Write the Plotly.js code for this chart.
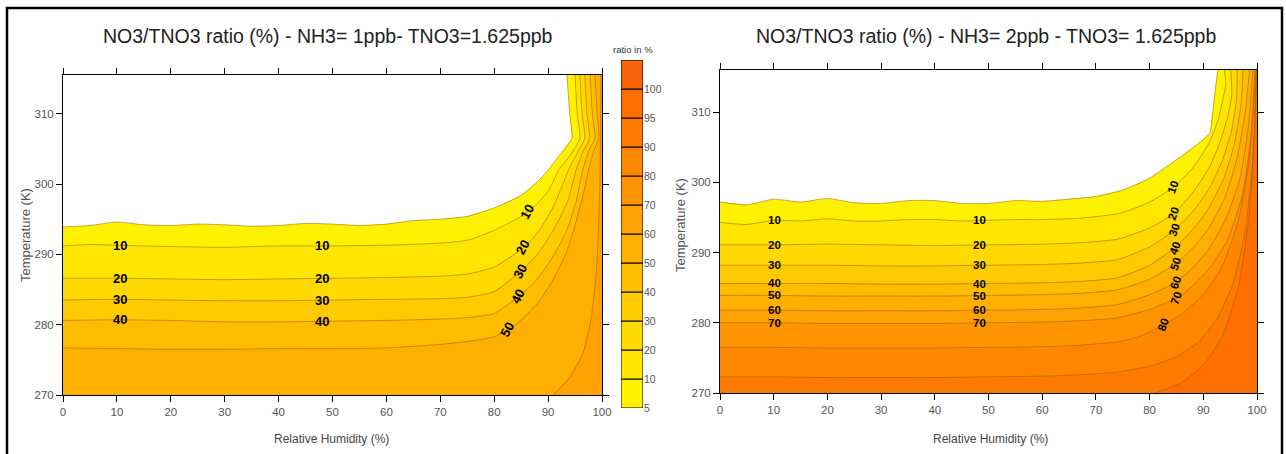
<!DOCTYPE html>
<html><head><meta charset="utf-8">
<script src="https://cdn.plot.ly/plotly-3.0.1.min.js"></script>
<style>html,body{margin:0;padding:0;background:#fff}#chart{width:1286px;height:454px}</style>
</head><body><div id="chart"></div>
<script>
// ---- colour levels (ratio in %) ----
const LEVELS = [5,10,20,30,40,50,60,70,80,90,95,100];
const BAND_COLORS = ['#FFF200','#FFE600','#FFD900','#FFCB00','#FFBD00','#FFAF00','#FFA100','#FF9400','#FF8700','#FF7B00','#FF6F00','#F8620A'];
const CB_LABELS = ['5','10','20','30','40','50','60','70','80','90','95','100'];
const X_TICKS = [0,10,20,30,40,50,60,70,80,90,100];
const Y_TICKS = [270,280,290,300,310];

// ---- left panel: NH3 = 1 ppb, contour lines (RH %, T K) ----
const left05RH = [0,5,10,15,20,25,30,35,40,45,50,55,60,65,70,75,80,85,88,90,92,94.4,94,93.5];
const left05T  = [293.9,294.1,294.6,294.2,294.1,294.3,294.2,294.0,294.1,294.4,294.3,294.1,294.3,294.8,295.0,295.4,296.6,298.4,300.3,302.0,304.0,306.5,310.0,315.5];
const left10RH = [0,5,10,20,30,40,50,60,70,75,80,85,88,90,92,94.5,95.9,95.4,95.0];
const left10T  = [291.2,291.4,291.3,291.1,291.0,291.2,291.2,291.3,291.6,292.0,293.4,295.4,297.2,299.0,302.0,304.5,306.5,310.0,315.5];
const left20RH = [0,10,20,30,40,50,60,70,75,80,85,88,91,93.8,95.6,96.8,96.3,95.9];
const left20T  = [286.6,286.6,286.5,286.4,286.5,286.6,286.7,286.9,287.2,288.2,290.7,293.0,296.8,302.0,304.7,306.5,310.0,315.5];
const left30RH = [0,10,20,30,40,50,60,70,75,80,85,88,91,93.6,95.2,96.6,97.7,97.2,96.8];
const left30T  = [283.5,283.6,283.5,283.4,283.4,283.5,283.6,283.7,283.9,284.7,287.7,290.0,293.5,297.5,302.0,304.8,306.5,310.0,315.5];
const left40RH = [0,10,20,30,40,50,60,70,75,80,85,88,91,93.5,95.2,96.4,97.6,98.7,98.2,97.8];
const left40T  = [280.6,280.7,280.6,280.4,280.4,280.5,280.6,280.8,281.0,281.6,284.3,286.5,289.8,293.5,297.5,302.0,304.8,306.5,310.0,315.5];
const left50RH = [0,10,20,30,40,50,60,70,75,80,84,88,91,93.5,95.3,96.5,97.5,98.5,99.4,99.1,98.7];
const left50T  = [276.7,276.6,276.5,276.5,276.6,276.6,276.7,277.2,277.6,278.3,280.0,283.0,286.5,290.5,295.0,298.5,302.0,304.8,306.5,310.0,315.5];
const left60RH = [91,94,96.5,98,99,99.6,99.8];
const left60T  = [270,272.5,276,281,288,300,315.5];

// ---- right panel: NH3 = 2 ppb ----
const right05RH = [0,5,10,15,20,25,30,35,40,45,50,55,60,65,70,75,80,85.7,89,91.2,91.8,92.2,92.7];
const right05T  = [297.2,296.8,297.6,297.2,297.7,297.1,297.0,297.4,297.4,297.0,297.0,297.4,297.3,297.6,298.0,298.9,300.6,303.6,305.5,307.0,310.3,313.0,316.0];
const right10RH = [0,5,10,15,20,25,30,35,40,45,50,55,60,67,74.5,80,84.4,88,91,92.8,93.7,94.2,93.9];
const right10T  = [294.3,294.0,294.6,294.5,294.8,294.5,294.5,294.7,294.7,294.5,294.6,294.7,294.7,294.9,295.6,297.2,299.3,302.0,305.5,309.0,312.0,314.0,316.0];
const right20RH = [0,10,20,30,40,50,60,67,74,80,84.5,88,91,93,94.6,95.3,95.1];
const right20T  = [291.1,291.1,291.2,291.1,291.0,291.1,291.2,291.4,291.9,293.5,295.6,298.5,302.0,305.5,309.5,312.5,316.0];
const right30RH = [0,10,20,30,40,50,60,67,74,80,84.6,88,91,93.5,95.3,96.2,96.3];
const right30T  = [288.2,288.2,288.2,288.1,288.1,288.2,288.3,288.5,289.0,290.8,293.2,295.8,299.0,303.0,307.5,312.0,316.0];
const right40RH = [0,10,20,30,40,50,60,67,74,80,84.7,88,91,93.8,95.8,97,97.4];
const right40T  = [285.6,285.6,285.6,285.5,285.5,285.6,285.7,285.9,286.4,288.2,290.7,293.2,296.3,300.5,305.5,311.0,316.0];
const right50RH = [0,10,20,30,40,50,60,67,74,80,84.8,88,91,94,96.3,97.8,98.6];
const right50T  = [283.9,283.9,283.8,283.8,283.8,283.9,284.0,284.2,284.7,286.2,288.4,290.6,293.5,297.8,303.5,310.0,316.0];
const right60RH = [0,10,20,30,40,50,60,67,74,80,84.9,88,91,94.2,96.8,98.4,99.2];
const right60T  = [281.8,281.8,281.7,281.7,281.7,281.8,281.9,282.1,282.6,284.0,285.8,287.8,290.5,294.8,300.5,308.0,316.0];
const right70RH = [0,10,20,30,40,50,60,67,74,80,85,88,91,94.4,97.2,98.8,99.6];
const right70T  = [280.0,280.0,279.9,279.9,279.9,280.0,280.1,280.3,280.7,281.9,283.5,285.2,287.6,291.6,298.0,306.0,316.0];
const right80RH = [0,10,20,30,40,50,60,67,74,78,82.5,86,90,93.5,96.5,98.5,99.8];
const right80T  = [276.5,276.5,276.4,276.4,276.4,276.5,276.6,276.8,277.3,278.0,279.7,281.3,284.0,288.0,294.5,303.0,316.0];
const right90RH = [0,10,20,30,40,50,60,67,74,80,85,89,92.5,95.5,97.8,99.2,99.9];
const right90T  = [272.3,272.3,272.2,272.2,272.2,272.3,272.4,272.6,273.0,273.8,275.2,277.2,280.5,285.5,293.0,303.0,316.0];
const right95RH = [81,86,90,93.5,96.5,98.5,99.6,99.95];
const right95T  = [270,271.5,274,278,285,295,308,316];

// ---- contour label placement (RH where labels sit) ----
const leftMidLabelRH = [10.6, 48.0];
const leftMidLabelLevels = [10,20,30,40];
const leftSideLabelLevels = [10,20,30,40,50];
const leftSideLabelRH = [86.0,85.3,84.8,84.4,82.4];
const rightMidLabelRH = [10.2, 48.4];
const rightMidLabelLevels = [10,20,30,40,50,60,70];
const rightSideLabelLevels = [10,20,30,40,50,60,70,80];
const rightSideLabelRH = [84.4,84.5,84.6,84.7,84.8,84.9,85.0,82.5];

const LEFT_TOP = 315.5, RIGHT_TOP = 316.0, T_MIN = 270;

const leftContours = [
  {level:5, x:left05RH, y:left05T}, {level:10, x:left10RH, y:left10T},
  {level:20, x:left20RH, y:left20T}, {level:30, x:left30RH, y:left30T},
  {level:40, x:left40RH, y:left40T}, {level:50, x:left50RH, y:left50T},
  {level:60, x:left60RH, y:left60T}
];
const rightContours = [
  {level:5, x:right05RH, y:right05T}, {level:10, x:right10RH, y:right10T},
  {level:20, x:right20RH, y:right20T}, {level:30, x:right30RH, y:right30T},
  {level:40, x:right40RH, y:right40T}, {level:50, x:right50RH, y:right50T},
  {level:60, x:right60RH, y:right60T}, {level:70, x:right70RH, y:right70T},
  {level:80, x:right80RH, y:right80T}, {level:90, x:right90RH, y:right90T},
  {level:95, x:right95RH, y:right95T}
];

function yAt(xs, ys, xq){
  for (let i=0;i<xs.length-1;i++){
    if ((xs[i]-xq)*(xs[i+1]-xq) <= 0 && xs[i]!==xs[i+1]){
      return ys[i] + (ys[i+1]-ys[i])*(xq-xs[i])/(xs[i+1]-xs[i]);
    }
  }
  return ys[0];
}

const traces = [];
const annotations = [];
const LINE_COLOR = 'rgba(150,95,0,0.6)';

function addPanel(contours, top, xa, ya){
  contours.forEach(c => {
    const band = BAND_COLORS[LEVELS.indexOf(c.level)];
    traces.push({type:'scatter', mode:'lines', xaxis:xa, yaxis:ya,
      x: c.x.concat([100,100,0]), y: c.y.concat([top,T_MIN,T_MIN]),
      fill:'toself', fillcolor: band, line:{width:0, color:band},
      hoverinfo:'skip', showlegend:false});
  });
  contours.forEach(c => {
    traces.push({type:'scatter', mode:'lines', xaxis:xa, yaxis:ya,
      x:c.x, y:c.y, line:{width:0.9, color:LINE_COLOR, shape:'spline', smoothing:0.6},
      hoverinfo:'skip', showlegend:false});
  });
}
addPanel(leftContours, LEFT_TOP, 'x', 'y');
addPanel(rightContours, RIGHT_TOP, 'x2', 'y2');

function addLabels(contours, levels, rhs, xref, yref, angle, size){
  levels.forEach((lv, i) => {
    const c = contours.find(k => k.level === lv);
    const rh = rhs[i];
    annotations.push({xref:xref, yref:yref, x:rh, y:yAt(c.x, c.y, rh), text:String(lv),
      showarrow:false, textangle:angle, xanchor:'center', yanchor:'middle',
      font:{family:'Liberation Sans, Arial', size:size, color:'#000', weight:'bold'}});
  });
}
leftMidLabelRH.forEach(rh => addLabels(leftContours, leftMidLabelLevels, leftMidLabelLevels.map(()=>rh), 'x', 'y', 0, 13));
addLabels(leftContours, leftSideLabelLevels, leftSideLabelRH, 'x', 'y', -62, 13);
rightMidLabelRH.forEach(rh => addLabels(rightContours, rightMidLabelLevels, rightMidLabelLevels.map(()=>rh), 'x2', 'y2', 0, 11.5));
addLabels(rightContours, rightSideLabelLevels, rightSideLabelRH, 'x2', 'y2', -70, 11.5);

// colour bar as stacked bars
traces.push({type:'bar', xaxis:'x3', yaxis:'y3', x: LEVELS.map(()=>0), y: LEVELS.map(()=>1),
  base: LEVELS.map((_, i)=>i), width: 1, marker:{color:BAND_COLORS, line:{color:'#000', width:1}},
  hoverinfo:'skip', showlegend:false});

const W = 1286, H = 454;
const px = v => v / W, py = v => 1 - v / H;
const tickFont = {family:'Liberation Sans Narrow, Liberation Sans, Arial', size:11.5, color:'#555'};
const axBase = {showline:true, linecolor:'#000', linewidth:1, mirror:'ticks', ticks:'outside', ticklen:6,
  tickcolor:'#000', tickwidth:1, tickfont:tickFont, showgrid:false, zeroline:false, fixedrange:true};

const textFont = (s, c) => ({family:'Liberation Sans, Arial', size:s, color:c});
const paperNote = (x, y, text, font, angle) => ({xref:'paper', yref:'paper', x:px(x), y:py(y), text:text,
  showarrow:false, xanchor:'center', yanchor:'middle', textangle:angle || 0, font:font});
annotations.push(
  paperNote(328, 36, 'NO3/TNO3 ratio (%) - NH3= 1ppb- TNO3=1.625ppb', textFont(19.5,'#222')),
  paperNote(986, 36, 'NO3/TNO3 ratio (%) - NH3= 2ppb - TNO3= 1.625ppb', textFont(19.5,'#222')),
  paperNote(25, 235, 'Temperature (K)', textFont(13,'#555'), -90),
  paperNote(681, 225, 'Temperature (K)', textFont(13,'#555'), -90),
  paperNote(331, 439, 'Relative Humidity (%)', textFont(12,'#444')),
  paperNote(990, 439, 'Relative Humidity (%)', textFont(12,'#444')),
  paperNote(633, 49, 'ratio in %', textFont(9.5,'#333'))
);

const layout = {
  width: W, height: H, margin:{l:0,r:0,t:0,b:0}, paper_bgcolor:'#fff', plot_bgcolor:'#fff',
  showlegend:false, barmode:'overlay',
  xaxis: Object.assign({}, axBase, {domain:[px(63), px(602)], range:[0,100], tickvals:X_TICKS, anchor:'y'}),
  yaxis: Object.assign({}, axBase, {domain:[py(395), py(75)], range:[T_MIN, LEFT_TOP], tickvals:Y_TICKS, anchor:'x'}),
  xaxis2: Object.assign({}, axBase, {domain:[px(720), px(1257)], range:[0,100], tickvals:X_TICKS, anchor:'y2'}),
  yaxis2: Object.assign({}, axBase, {domain:[py(393), py(70)], range:[T_MIN, RIGHT_TOP], tickvals:Y_TICKS, anchor:'x2'}),
  xaxis3: {domain:[px(621), px(643)], range:[-0.5,0.5], visible:false, fixedrange:true, anchor:'y3'},
  yaxis3: {domain:[py(408), py(60)], range:[0,12], side:'right', anchor:'x3', tickvals:LEVELS.map((_, i)=>i),
    ticktext:CB_LABELS, ticks:'', showline:false, showgrid:false, zeroline:false, fixedrange:true,
    tickfont:{family:'Liberation Sans Narrow, Liberation Sans, Arial', size:10.5, color:'#555'}},
  annotations: annotations,
  shapes: [{type:'rect', xref:'paper', yref:'paper', x0:px(7), x1:px(1282), y0:-0.2, y1:py(8), line:{color:'#000', width:2.5}}]
};

Plotly.newPlot('chart', traces, layout, {staticPlot:true, displayModeBar:false});
</script></body></html>
